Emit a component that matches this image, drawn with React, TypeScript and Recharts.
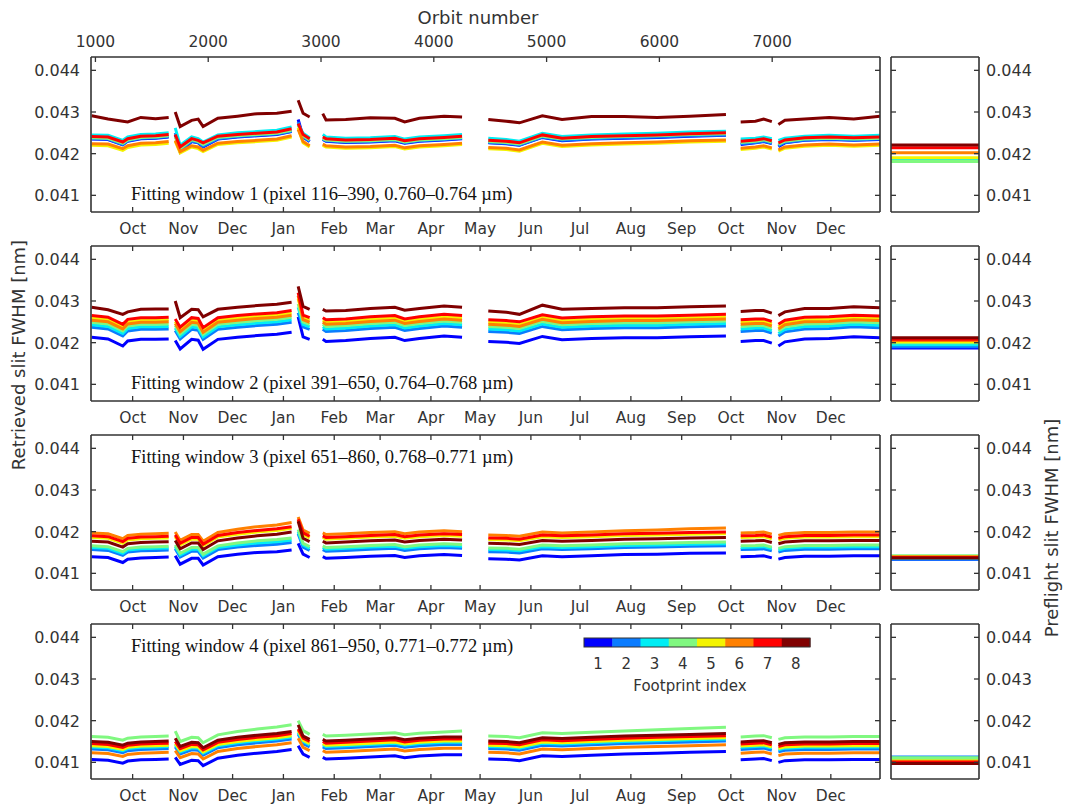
import React from "react";
import { Line, LineChart, XAxis, YAxis } from "recharts";

// jet-style colours for footprints 1..8
const FOOTPRINT_COLORS = ["#0000ff", "#0a7cff", "#00eef4", "#80f880", "#f4f400", "#ff8000", "#ff0000", "#800000"];

// days since 2014-10-01, one list per continuous stretch of data
const SEGMENT_DAYS = [
  [-25, -15, -6, -3, 5, 14, 22],
  [26, 29, 36, 40, 43, 52, 64, 76, 88, 97],
  [101, 104, 108],
  [116, 118, 130, 145, 160, 166, 175, 190, 201],
  [217, 228, 236, 250, 262, 280, 300, 320, 340, 362],
  [371, 380, 385, 390],
  [394, 398, 410, 425, 440, 456],
];

const MONTH_DAYS = [0, 31, 61, 92, 123, 151, 182, 212, 243, 273, 304, 335, 365, 396, 426];
const MONTH_LABELS = ["Oct", "Nov", "Dec", "Jan", "Feb", "Mar", "Apr", "May", "Jun", "Jul", "Aug", "Sep", "Oct", "Nov", "Dec"];
const ORBITS = [1000, 2000, 3000, 4000, 5000, 6000, 7000];
const Y_TICKS = [0.041, 0.042, 0.043, 0.044];
const FOOTPRINTS = ["1", "2", "3", "4", "5", "6", "7", "8"];

// orbit 1000 falls on day -22.7, ~14.5 orbits per day
const ORBIT_1000_DAY = -22.7;
const DAYS_PER_ORBIT = 0.06882;

const DAY_DOMAIN: [number, number] = [-25.4, 456];
const FWHM_DOMAIN: [number, number] = [0.0406, 0.04432];

// ---- window 1 ----
const W1_FP1 = [
  [0.04235, 0.04234, 0.04221, 0.0423, 0.04236, 0.04237, 0.0424],
  [0.04245, 0.04204, 0.04229, 0.04226, 0.04216, 0.04235, 0.0424, 0.04243, 0.04246, 0.04253],
  [0.04282, 0.0424, 0.04229],
  [0.04234, 0.0423, 0.04227, 0.04228, 0.04231, 0.04225, 0.0423, 0.04233, 0.04236],
  [0.04226, 0.04224, 0.0422, 0.04239, 0.04231, 0.04235, 0.04237, 0.04239, 0.04242, 0.04244],
  [0.04222, 0.04226, 0.04229, 0.04224],
  [0.04217, 0.04226, 0.04232, 0.04234, 0.04232, 0.04234],
];
const W1_FP2 = [
  [0.04236, 0.04235, 0.04222, 0.04231, 0.04237, 0.04238, 0.04241],
  [0.0425, 0.04208, 0.0423, 0.04227, 0.04218, 0.04236, 0.04241, 0.04244, 0.04247, 0.04254],
  [0.04276, 0.04241, 0.0423],
  [0.04235, 0.04231, 0.04228, 0.04229, 0.04232, 0.04226, 0.04231, 0.04234, 0.04237],
  [0.04227, 0.04225, 0.04221, 0.0424, 0.04232, 0.04236, 0.04238, 0.0424, 0.04243, 0.04245],
  [0.04224, 0.04227, 0.0423, 0.04225],
  [0.04219, 0.04227, 0.04233, 0.04235, 0.04233, 0.04235],
];
const W1_FP3 = [
  [0.04245, 0.04244, 0.04232, 0.0424, 0.04246, 0.04247, 0.0425],
  [0.04262, 0.0422, 0.0424, 0.04236, 0.04228, 0.04245, 0.0425, 0.04253, 0.04256, 0.04264],
  [0.0427, 0.04249, 0.04238],
  [0.04246, 0.0424, 0.04237, 0.04238, 0.04241, 0.04235, 0.0424, 0.04243, 0.04246],
  [0.04237, 0.04234, 0.0423, 0.04249, 0.04241, 0.04245, 0.04247, 0.04249, 0.04252, 0.04254],
  [0.04235, 0.04237, 0.0424, 0.04236],
  [0.04232, 0.04237, 0.04242, 0.04244, 0.04242, 0.04244],
];
const W1_FP4 = [
  [0.04238, 0.04237, 0.04225, 0.04233, 0.04239, 0.0424, 0.04243],
  [0.0424, 0.04212, 0.04233, 0.04229, 0.04222, 0.04239, 0.04243, 0.04246, 0.04249, 0.04256],
  [0.04268, 0.04243, 0.04233],
  [0.04236, 0.04233, 0.0423, 0.04231, 0.04234, 0.04228, 0.04233, 0.04236, 0.04239],
  [0.04229, 0.04227, 0.04223, 0.04242, 0.04235, 0.04239, 0.04241, 0.04243, 0.04246, 0.04248],
  [0.04227, 0.0423, 0.04233, 0.04228],
  [0.04222, 0.0423, 0.04235, 0.04237, 0.04235, 0.04237],
];
const W1_FP5 = [
  [0.0422, 0.04219, 0.04208, 0.04215, 0.04221, 0.04222, 0.04225],
  [0.0423, 0.04202, 0.04216, 0.04212, 0.04205, 0.04222, 0.04226, 0.04229, 0.04232, 0.0424],
  [0.04262, 0.04226, 0.04216],
  [0.0422, 0.04216, 0.04213, 0.04214, 0.04217, 0.04211, 0.04216, 0.04219, 0.04222],
  [0.04212, 0.0421, 0.04206, 0.04225, 0.04217, 0.04221, 0.04223, 0.04225, 0.04228, 0.0423],
  [0.0421, 0.04213, 0.04216, 0.04211],
  [0.04206, 0.04213, 0.04218, 0.0422, 0.04218, 0.0422],
];
const W1_FP6 = [
  [0.04224, 0.04223, 0.04212, 0.04219, 0.04225, 0.04226, 0.04229],
  [0.04232, 0.04205, 0.04219, 0.04216, 0.04208, 0.04225, 0.04229, 0.04232, 0.04235, 0.04243],
  [0.04258, 0.04229, 0.04219],
  [0.04223, 0.04219, 0.04216, 0.04217, 0.0422, 0.04214, 0.04219, 0.04222, 0.04225],
  [0.04215, 0.04213, 0.04209, 0.04228, 0.0422, 0.04224, 0.04226, 0.04228, 0.04231, 0.04233],
  [0.04213, 0.04216, 0.04219, 0.04214],
  [0.04209, 0.04216, 0.04221, 0.04223, 0.04221, 0.04223],
];
const W1_FP7 = [
  [0.04241, 0.0424, 0.04228, 0.04236, 0.04242, 0.04243, 0.04246],
  [0.04246, 0.04216, 0.04236, 0.04232, 0.04226, 0.04242, 0.04246, 0.04249, 0.04252, 0.0426],
  [0.04272, 0.04246, 0.04236],
  [0.0424, 0.04236, 0.04233, 0.04234, 0.04237, 0.04231, 0.04236, 0.04239, 0.04242],
  [0.04232, 0.0423, 0.04226, 0.04245, 0.04237, 0.04241, 0.04243, 0.04245, 0.04248, 0.0425],
  [0.0423, 0.04233, 0.04236, 0.04231],
  [0.04226, 0.04233, 0.04238, 0.0424, 0.04238, 0.0424],
];
const W1_FP8 = [
  [0.04291, 0.04283, 0.04278, 0.04276, 0.04287, 0.04284, 0.04287],
  [0.043, 0.04265, 0.0428, 0.04283, 0.04265, 0.04285, 0.0429, 0.04296, 0.04297, 0.04302],
  [0.04328, 0.04297, 0.04288],
  [0.04296, 0.04281, 0.04282, 0.04286, 0.04285, 0.04276, 0.04285, 0.0429, 0.04288],
  [0.04282, 0.04278, 0.04274, 0.04291, 0.04282, 0.04289, 0.04289, 0.04287, 0.0429, 0.04294],
  [0.04276, 0.04278, 0.04283, 0.04277],
  [0.0427, 0.0428, 0.04283, 0.04287, 0.04283, 0.0429],
];

// ---- window 2 ----
const W2_FP1 = [
  [0.04213, 0.04209, 0.04192, 0.04204, 0.04208, 0.04208, 0.04209],
  [0.04205, 0.04185, 0.04208, 0.04206, 0.04184, 0.04208, 0.04213, 0.04217, 0.0422, 0.04225],
  [0.04262, 0.04214, 0.04208],
  [0.04208, 0.04203, 0.04205, 0.0421, 0.04213, 0.04205, 0.0421, 0.04216, 0.04213],
  [0.04203, 0.04201, 0.04198, 0.04215, 0.04207, 0.0421, 0.04212, 0.04212, 0.04214, 0.04216],
  [0.04203, 0.04205, 0.04205, 0.04199],
  [0.04192, 0.04202, 0.04209, 0.0421, 0.04214, 0.04212],
];
const W2_FP2 = [
  [0.04237, 0.04233, 0.04216, 0.04228, 0.04232, 0.04232, 0.04233],
  [0.04229, 0.04209, 0.04232, 0.0423, 0.04208, 0.04232, 0.04237, 0.04241, 0.04244, 0.04249],
  [0.04272, 0.04238, 0.04232],
  [0.04232, 0.04227, 0.04229, 0.04234, 0.04237, 0.04229, 0.04234, 0.0424, 0.04237],
  [0.04227, 0.04225, 0.04222, 0.04239, 0.04231, 0.04234, 0.04236, 0.04236, 0.04238, 0.0424],
  [0.04227, 0.04229, 0.04229, 0.04223],
  [0.04216, 0.04226, 0.04233, 0.04234, 0.04238, 0.04236],
];
const W2_FP3 = [
  [0.04243, 0.04239, 0.04222, 0.04234, 0.04238, 0.04238, 0.04239],
  [0.04235, 0.04215, 0.04238, 0.04236, 0.04214, 0.04238, 0.04243, 0.04247, 0.0425, 0.04255],
  [0.04285, 0.04244, 0.04238],
  [0.04238, 0.04233, 0.04235, 0.0424, 0.04243, 0.04235, 0.0424, 0.04246, 0.04243],
  [0.04233, 0.04231, 0.04228, 0.04245, 0.04237, 0.0424, 0.04242, 0.04242, 0.04244, 0.04246],
  [0.04233, 0.04235, 0.04235, 0.04229],
  [0.04222, 0.04232, 0.04239, 0.0424, 0.04244, 0.04242],
];
const W2_FP4 = [
  [0.04249, 0.04245, 0.04228, 0.0424, 0.04244, 0.04244, 0.04245],
  [0.04241, 0.04221, 0.04244, 0.04242, 0.0422, 0.04244, 0.04249, 0.04253, 0.04256, 0.04261],
  [0.04293, 0.0425, 0.04244],
  [0.04244, 0.04239, 0.04241, 0.04246, 0.04249, 0.04241, 0.04246, 0.04252, 0.04249],
  [0.04239, 0.04237, 0.04234, 0.04251, 0.04243, 0.04246, 0.04248, 0.04248, 0.0425, 0.04252],
  [0.04239, 0.04241, 0.04241, 0.04235],
  [0.04228, 0.04238, 0.04245, 0.04246, 0.0425, 0.04248],
];
const W2_FP5 = [
  [0.04259, 0.04255, 0.04238, 0.0425, 0.04254, 0.04254, 0.04255],
  [0.04251, 0.04231, 0.04254, 0.04252, 0.0423, 0.04254, 0.04259, 0.04263, 0.04266, 0.04271],
  [0.04305, 0.0426, 0.04254],
  [0.04254, 0.04249, 0.04251, 0.04256, 0.04259, 0.04251, 0.04256, 0.04262, 0.04259],
  [0.04249, 0.04247, 0.04244, 0.04261, 0.04253, 0.04256, 0.04258, 0.04258, 0.0426, 0.04262],
  [0.04249, 0.04251, 0.04251, 0.04245],
  [0.04238, 0.04248, 0.04255, 0.04256, 0.0426, 0.04258],
];
const W2_FP6 = [
  [0.04254, 0.0425, 0.04233, 0.04245, 0.04249, 0.04249, 0.0425],
  [0.04246, 0.04226, 0.04249, 0.04247, 0.04225, 0.04249, 0.04254, 0.04258, 0.04261, 0.04266],
  [0.04313, 0.04255, 0.04249],
  [0.04249, 0.04244, 0.04246, 0.04251, 0.04254, 0.04246, 0.04251, 0.04257, 0.04254],
  [0.04244, 0.04242, 0.04239, 0.04256, 0.04248, 0.04251, 0.04253, 0.04253, 0.04255, 0.04257],
  [0.04244, 0.04246, 0.04246, 0.0424],
  [0.04233, 0.04243, 0.0425, 0.04251, 0.04255, 0.04253],
];
const W2_FP7 = [
  [0.04265, 0.04261, 0.04244, 0.04256, 0.0426, 0.0426, 0.04261],
  [0.04257, 0.04237, 0.0426, 0.04258, 0.04236, 0.0426, 0.04265, 0.04269, 0.04272, 0.04277],
  [0.0432, 0.04266, 0.0426],
  [0.0426, 0.04255, 0.04257, 0.04262, 0.04265, 0.04257, 0.04262, 0.04268, 0.04265],
  [0.04255, 0.04253, 0.0425, 0.04267, 0.04259, 0.04262, 0.04264, 0.04264, 0.04266, 0.04268],
  [0.04255, 0.04257, 0.04257, 0.04251],
  [0.04244, 0.04254, 0.04261, 0.04262, 0.04266, 0.04264],
];
const W2_FP8 = [
  [0.04285, 0.04279, 0.04268, 0.04274, 0.0428, 0.04281, 0.04281],
  [0.043, 0.0426, 0.0428, 0.04279, 0.04262, 0.0428, 0.04285, 0.04289, 0.04292, 0.04297],
  [0.04335, 0.04287, 0.0428],
  [0.0428, 0.04276, 0.04277, 0.04282, 0.04285, 0.04278, 0.04282, 0.04288, 0.04285],
  [0.04276, 0.04273, 0.04268, 0.0429, 0.0428, 0.04282, 0.04284, 0.04284, 0.04286, 0.04288],
  [0.04275, 0.04277, 0.04277, 0.04271],
  [0.04265, 0.04274, 0.04282, 0.04282, 0.04286, 0.04284],
];

// ---- window 3 ----
const W3_FP1 = [
  [0.0414, 0.04138, 0.04126, 0.04134, 0.04137, 0.04138, 0.04139],
  [0.04142, 0.04122, 0.04136, 0.04136, 0.0412, 0.0414, 0.04146, 0.0415, 0.04152, 0.04156],
  [0.04172, 0.04146, 0.04138],
  [0.0414, 0.04136, 0.04138, 0.04141, 0.04143, 0.04138, 0.04142, 0.04145, 0.04143],
  [0.04135, 0.04134, 0.04132, 0.04142, 0.0414, 0.04142, 0.04145, 0.04146, 0.04148, 0.04149],
  [0.0414, 0.04141, 0.04142, 0.04137],
  [0.04134, 0.04138, 0.04141, 0.04141, 0.04142, 0.04142],
];
const W3_FP2 = [
  [0.04157, 0.04155, 0.04143, 0.04151, 0.04154, 0.04155, 0.04156],
  [0.04159, 0.04139, 0.04153, 0.04153, 0.04137, 0.04157, 0.04163, 0.04167, 0.0417, 0.04174],
  [0.04195, 0.04163, 0.04155],
  [0.04157, 0.04153, 0.04155, 0.04158, 0.0416, 0.04155, 0.04159, 0.04162, 0.0416],
  [0.04152, 0.04151, 0.04149, 0.04159, 0.04157, 0.04159, 0.04162, 0.04163, 0.04165, 0.04166],
  [0.04157, 0.04158, 0.04159, 0.04154],
  [0.04151, 0.04155, 0.04158, 0.04158, 0.04159, 0.04159],
];
const W3_FP3 = [
  [0.04162, 0.0416, 0.04148, 0.04156, 0.04159, 0.0416, 0.04161],
  [0.04164, 0.04144, 0.04158, 0.04158, 0.04142, 0.04162, 0.04168, 0.04173, 0.04176, 0.0418],
  [0.042, 0.04168, 0.0416],
  [0.04162, 0.04158, 0.0416, 0.04163, 0.04165, 0.0416, 0.04164, 0.04167, 0.04165],
  [0.04157, 0.04156, 0.04154, 0.04164, 0.04162, 0.04164, 0.04167, 0.04168, 0.0417, 0.04171],
  [0.04162, 0.04163, 0.04164, 0.04159],
  [0.04156, 0.0416, 0.04163, 0.04163, 0.04164, 0.04164],
];
const W3_FP4 = [
  [0.04166, 0.04164, 0.04152, 0.0416, 0.04163, 0.04164, 0.04165],
  [0.04168, 0.04148, 0.04162, 0.04162, 0.04146, 0.04166, 0.04173, 0.04178, 0.04181, 0.04185],
  [0.04205, 0.04172, 0.04164],
  [0.04166, 0.04162, 0.04164, 0.04167, 0.04169, 0.04164, 0.04168, 0.04171, 0.04169],
  [0.04161, 0.0416, 0.04158, 0.04168, 0.04166, 0.04168, 0.04171, 0.04172, 0.04174, 0.04175],
  [0.04166, 0.04167, 0.04168, 0.04163],
  [0.0416, 0.04164, 0.04167, 0.04167, 0.04168, 0.04168],
];
const W3_FP5 = [
  [0.04186, 0.04184, 0.04172, 0.0418, 0.04183, 0.04184, 0.04185],
  [0.04188, 0.04168, 0.04182, 0.04182, 0.04166, 0.04187, 0.04194, 0.04199, 0.04203, 0.04208],
  [0.04228, 0.04193, 0.04185],
  [0.04186, 0.04182, 0.04184, 0.04187, 0.04189, 0.04184, 0.04188, 0.04191, 0.04189],
  [0.04181, 0.0418, 0.04178, 0.04188, 0.04186, 0.04188, 0.04191, 0.04192, 0.04194, 0.04195],
  [0.04186, 0.04187, 0.04188, 0.04183],
  [0.0418, 0.04184, 0.04187, 0.04187, 0.04188, 0.04188],
];
const W3_FP6 = [
  [0.04197, 0.04195, 0.04183, 0.04191, 0.04194, 0.04195, 0.04196],
  [0.04199, 0.04179, 0.04193, 0.04193, 0.04177, 0.04198, 0.04206, 0.04212, 0.04216, 0.04222],
  [0.04235, 0.04204, 0.04196],
  [0.04197, 0.04193, 0.04195, 0.04198, 0.042, 0.04195, 0.04199, 0.04202, 0.042],
  [0.04192, 0.04191, 0.04189, 0.04199, 0.04197, 0.04199, 0.04202, 0.04204, 0.04207, 0.04209],
  [0.04197, 0.04198, 0.04199, 0.04194],
  [0.04191, 0.04195, 0.04198, 0.04198, 0.04199, 0.04199],
];
const W3_FP7 = [
  [0.0419, 0.04188, 0.04176, 0.04184, 0.04187, 0.04188, 0.04189],
  [0.04192, 0.04172, 0.04186, 0.04186, 0.0417, 0.04191, 0.04198, 0.04203, 0.04207, 0.04212],
  [0.0423, 0.04197, 0.04189],
  [0.0419, 0.04186, 0.04188, 0.04191, 0.04193, 0.04188, 0.04192, 0.04195, 0.04193],
  [0.04185, 0.04184, 0.04182, 0.04192, 0.0419, 0.04192, 0.04195, 0.04196, 0.04198, 0.04199],
  [0.0419, 0.04191, 0.04192, 0.04187],
  [0.04184, 0.04188, 0.04191, 0.04191, 0.04192, 0.04192],
];
const W3_FP8 = [
  [0.04177, 0.04175, 0.04163, 0.04171, 0.04174, 0.04175, 0.04176],
  [0.04179, 0.04159, 0.04173, 0.04173, 0.04157, 0.04178, 0.04185, 0.0419, 0.04194, 0.04199],
  [0.04225, 0.04184, 0.04176],
  [0.04177, 0.04173, 0.04175, 0.04178, 0.0418, 0.04175, 0.04179, 0.04182, 0.0418],
  [0.04172, 0.04171, 0.04169, 0.04179, 0.04177, 0.04179, 0.04182, 0.04183, 0.04185, 0.04186],
  [0.04177, 0.04178, 0.04179, 0.04174],
  [0.04171, 0.04175, 0.04178, 0.04178, 0.04179, 0.04179],
];

// ---- window 4 ----
const W4_FP1 = [
  [0.04107, 0.04105, 0.04098, 0.04103, 0.04106, 0.04107, 0.04108],
  [0.04112, 0.04095, 0.04105, 0.04104, 0.04092, 0.0411, 0.04117, 0.04122, 0.04126, 0.04131],
  [0.0414, 0.0412, 0.04112],
  [0.04112, 0.04108, 0.0411, 0.04113, 0.04116, 0.04111, 0.04115, 0.04118, 0.04118],
  [0.04108, 0.04107, 0.04104, 0.04116, 0.04114, 0.04117, 0.0412, 0.04122, 0.04124, 0.04126],
  [0.04106, 0.04108, 0.04109, 0.04104],
  [0.041, 0.04104, 0.04106, 0.04106, 0.04107, 0.04107],
];
const W4_FP2 = [
  [0.04132, 0.0413, 0.04123, 0.04128, 0.04131, 0.04132, 0.04133],
  [0.04137, 0.0412, 0.0413, 0.04129, 0.04117, 0.04135, 0.04142, 0.04147, 0.04151, 0.04156],
  [0.04168, 0.04145, 0.04137],
  [0.04137, 0.04133, 0.04135, 0.04138, 0.04141, 0.04136, 0.0414, 0.04143, 0.04143],
  [0.04133, 0.04132, 0.04129, 0.04141, 0.04139, 0.04142, 0.04145, 0.04147, 0.04149, 0.04151],
  [0.04131, 0.04133, 0.04134, 0.04129],
  [0.04125, 0.04129, 0.04131, 0.04131, 0.04132, 0.04132],
];
const W4_FP3 = [
  [0.04137, 0.04135, 0.04128, 0.04133, 0.04136, 0.04137, 0.04138],
  [0.04142, 0.04125, 0.04135, 0.04134, 0.04122, 0.0414, 0.04147, 0.04152, 0.04156, 0.04161],
  [0.04172, 0.0415, 0.04142],
  [0.04142, 0.04138, 0.0414, 0.04143, 0.04146, 0.04141, 0.04145, 0.04148, 0.04148],
  [0.04138, 0.04137, 0.04134, 0.04146, 0.04144, 0.04147, 0.0415, 0.04152, 0.04154, 0.04156],
  [0.04136, 0.04138, 0.04139, 0.04134],
  [0.0413, 0.04134, 0.04136, 0.04136, 0.04137, 0.04137],
];
const W4_FP4 = [
  [0.04162, 0.0416, 0.04153, 0.04158, 0.04161, 0.04162, 0.04163],
  [0.04175, 0.0415, 0.0416, 0.04159, 0.04147, 0.04166, 0.04174, 0.0418, 0.04185, 0.0419],
  [0.042, 0.04176, 0.04167],
  [0.04167, 0.04163, 0.04165, 0.04168, 0.04171, 0.04166, 0.0417, 0.04173, 0.04175],
  [0.04163, 0.04162, 0.04159, 0.04171, 0.04169, 0.04172, 0.04175, 0.04178, 0.04181, 0.04184],
  [0.04161, 0.04163, 0.04164, 0.04159],
  [0.04155, 0.04159, 0.04161, 0.04161, 0.04162, 0.04162],
];
const W4_FP5 = [
  [0.0414, 0.04138, 0.04131, 0.04136, 0.04139, 0.0414, 0.04141],
  [0.04145, 0.04128, 0.04138, 0.04137, 0.04125, 0.04143, 0.0415, 0.04155, 0.04159, 0.04164],
  [0.04176, 0.04153, 0.04145],
  [0.04145, 0.04141, 0.04143, 0.04146, 0.04149, 0.04144, 0.04148, 0.04151, 0.04151],
  [0.04141, 0.0414, 0.04137, 0.04149, 0.04147, 0.0415, 0.04153, 0.04155, 0.04157, 0.04159],
  [0.04139, 0.04141, 0.04142, 0.04137],
  [0.04133, 0.04137, 0.04139, 0.04139, 0.0414, 0.0414],
];
const W4_FP6 = [
  [0.04123, 0.04121, 0.04114, 0.04119, 0.04122, 0.04123, 0.04124],
  [0.04128, 0.04111, 0.04121, 0.0412, 0.04108, 0.04126, 0.04133, 0.04138, 0.04142, 0.04147],
  [0.04158, 0.04136, 0.04128],
  [0.04128, 0.04124, 0.04126, 0.04129, 0.04132, 0.04127, 0.04131, 0.04134, 0.04134],
  [0.04124, 0.04123, 0.0412, 0.04132, 0.0413, 0.04133, 0.04136, 0.04138, 0.0414, 0.04142],
  [0.04122, 0.04124, 0.04125, 0.0412],
  [0.04116, 0.0412, 0.04122, 0.04122, 0.04123, 0.04123],
];
const W4_FP7 = [
  [0.04145, 0.04143, 0.04136, 0.04141, 0.04144, 0.04145, 0.04146],
  [0.0415, 0.04133, 0.04143, 0.04142, 0.0413, 0.04148, 0.04155, 0.0416, 0.04164, 0.04169],
  [0.0418, 0.04158, 0.0415],
  [0.0415, 0.04146, 0.04148, 0.04151, 0.04154, 0.04149, 0.04153, 0.04156, 0.04156],
  [0.04146, 0.04145, 0.04142, 0.04154, 0.04152, 0.04155, 0.04158, 0.0416, 0.04162, 0.04164],
  [0.04144, 0.04146, 0.04147, 0.04142],
  [0.04138, 0.04142, 0.04144, 0.04144, 0.04145, 0.04145],
];
const W4_FP8 = [
  [0.0415, 0.04148, 0.04141, 0.04146, 0.04149, 0.0415, 0.04151],
  [0.04158, 0.04138, 0.04148, 0.04147, 0.04135, 0.04153, 0.0416, 0.04165, 0.04169, 0.04174],
  [0.0419, 0.04163, 0.04155],
  [0.04155, 0.04151, 0.04153, 0.04156, 0.04159, 0.04154, 0.04158, 0.04161, 0.04161],
  [0.04151, 0.0415, 0.04147, 0.04159, 0.04157, 0.0416, 0.04163, 0.04165, 0.04167, 0.04169],
  [0.04149, 0.04151, 0.04152, 0.04147],
  [0.04143, 0.04147, 0.04149, 0.04149, 0.0415, 0.0415],
];

// preflight slit FWHM per footprint (1..8)
const PREFLIGHT_W1 = [0.04183, 0.04184, 0.04186, 0.04181, 0.0419, 0.04202, 0.04214, 0.04221];
const PREFLIGHT_W2 = [0.04187, 0.0419, 0.04195, 0.042, 0.04202, 0.04205, 0.04208, 0.04212];
const PREFLIGHT_W3 = [0.04134, 0.04134, 0.04136, 0.04142, 0.04139, 0.0414, 0.04138, 0.04137];
const PREFLIGHT_W4 = [0.04108, 0.04113, 0.0411, 0.04111, 0.04104, 0.04102, 0.041, 0.04097];

const PANELS = [
  {
    top: 57,
    series: [W1_FP1, W1_FP2, W1_FP3, W1_FP4, W1_FP5, W1_FP6, W1_FP7, W1_FP8],
    preflight: PREFLIGHT_W1,
    title: "Fitting window 1 (pixel 116\u2013390, 0.760\u20130.764 \u00b5m)",
    titleY: 200,
  },
  {
    top: 246,
    series: [W2_FP1, W2_FP2, W2_FP3, W2_FP4, W2_FP5, W2_FP6, W2_FP7, W2_FP8],
    preflight: PREFLIGHT_W2,
    title: "Fitting window 2 (pixel 391\u2013650, 0.764\u20130.768 \u00b5m)",
    titleY: 389,
  },
  {
    top: 435,
    series: [W3_FP1, W3_FP2, W3_FP3, W3_FP4, W3_FP5, W3_FP6, W3_FP7, W3_FP8],
    preflight: PREFLIGHT_W3,
    title: "Fitting window 3 (pixel 651\u2013860, 0.768\u20130.771 \u00b5m)",
    titleY: 463,
  },
  {
    top: 624,
    series: [W4_FP1, W4_FP2, W4_FP3, W4_FP4, W4_FP5, W4_FP6, W4_FP7, W4_FP8],
    preflight: PREFLIGHT_W4,
    title: "Fitting window 4 (pixel 861\u2013950, 0.771\u20130.772 \u00b5m)",
    titleY: 652,
  },
];

const PLOT_LEFT = 91;
const PLOT_W = 789;
const PLOT_H = 155;
const SIDE_LEFT = 891;
const SIDE_W = 88;
const TICK_LEN = 5;
const AXIS_COLOR = "#333";
const SANS = "DejaVu Sans";
const SERIF = "Liberation Serif";

type Row = Record<string, number | null>;

// flatten the segments into one table, with an empty row in each gap
function buildRows(series: number[][][]): Row[] {
  const rows: Row[] = [];
  SEGMENT_DAYS.forEach((days, s) => {
    if (s > 0) {
      const prev = SEGMENT_DAYS[s - 1];
      const gap: Row = { day: (prev[prev.length - 1] + days[0]) / 2 };
      series.forEach((_, k) => (gap[`fp${k + 1}`] = null));
      rows.push(gap);
    }
    days.forEach((day, i) => {
      const row: Row = { day };
      series.forEach((fp, k) => (row[`fp${k + 1}`] = fp[s][i]));
      rows.push(row);
    });
  });
  return rows;
}

const orbitDay = (orbit: number) => ORBIT_1000_DAY + (orbit - 1000) * DAYS_PER_ORBIT;

const BottomMonthTick = (props: any) => {
  const { x, y, index } = props;
  return (
    <g>
      <line x1={x} y1={y} x2={x} y2={y - TICK_LEN} stroke={AXIS_COLOR} strokeWidth={1.3} />
      <text x={x} y={y + 22} textAnchor="middle" fontFamily={SANS} fontSize={15.5} fill={AXIS_COLOR}>
        {MONTH_LABELS[index]}
      </text>
    </g>
  );
};

const TopMonthTick = (props: any) => {
  const { x, y } = props;
  return <line x1={x} y1={y} x2={x} y2={y + TICK_LEN} stroke={AXIS_COLOR} strokeWidth={1.3} />;
};

const OrbitTick = (props: any) => {
  const { x, y, index } = props;
  return (
    <g>
      <line x1={x} y1={y} x2={x} y2={y + TICK_LEN} stroke={AXIS_COLOR} strokeWidth={1.3} />
      <text x={x} y={y - 10} textAnchor="middle" fontFamily={SANS} fontSize={15.5} fill={AXIS_COLOR}>
        {ORBITS[index]}
      </text>
    </g>
  );
};

const LeftValueTick = (props: any) => {
  const { x, y, payload } = props;
  return (
    <g>
      <line x1={x} y1={y} x2={x + TICK_LEN} y2={y} stroke={AXIS_COLOR} strokeWidth={1.3} />
      <text x={x - 11} y={y + 6} textAnchor="end" fontFamily={SANS} fontSize={16} fill={AXIS_COLOR}>
        {payload.value.toFixed(3)}
      </text>
    </g>
  );
};

const InnerRightTick = (props: any) => {
  const { x, y } = props;
  return <line x1={x} y1={y} x2={x - TICK_LEN} y2={y} stroke={AXIS_COLOR} strokeWidth={1.3} />;
};

const InnerLeftTick = (props: any) => {
  const { x, y } = props;
  return <line x1={x} y1={y} x2={x + TICK_LEN} y2={y} stroke={AXIS_COLOR} strokeWidth={1.3} />;
};

const RightValueTick = (props: any) => {
  const { x, y, payload } = props;
  return (
    <g>
      <line x1={x} y1={y} x2={x - TICK_LEN} y2={y} stroke={AXIS_COLOR} strokeWidth={1.3} />
      <text x={x + 7} y={y + 6} textAnchor="start" fontFamily={SANS} fontSize={16} fill={AXIS_COLOR}>
        {payload.value.toFixed(3)}
      </text>
    </g>
  );
};

const axisLine = { stroke: AXIS_COLOR, strokeWidth: 1.6 };

function TimePanel({ panel, first }: { panel: (typeof PANELS)[number]; first: boolean }) {
  const rows = buildRows(panel.series);
  const topH = first ? 57 : 20;
  const bottomH = 30;
  return (
    <div style={{ position: "absolute", left: 0, top: panel.top - topH }}>
      <LineChart
        width={PLOT_LEFT + PLOT_W + 1}
        height={topH + PLOT_H + bottomH}
        data={rows}
        margin={{ top: 0, right: 0, bottom: 0, left: 0 }}
      >
        <XAxis
          dataKey="day"
          type="number"
          domain={DAY_DOMAIN}
          allowDataOverflow
          ticks={MONTH_DAYS}
          interval={0}
          height={bottomH}
          tickSize={0}
          tickMargin={0}
          tickLine={false}
          axisLine={axisLine}
          tick={<BottomMonthTick />}
        />
        <XAxis
          xAxisId="top"
          orientation="top"
          dataKey="day"
          type="number"
          domain={DAY_DOMAIN}
          allowDataOverflow
          ticks={first ? ORBITS.map(orbitDay) : MONTH_DAYS}
          interval={0}
          height={topH}
          tickSize={0}
          tickMargin={0}
          tickLine={false}
          axisLine={axisLine}
          tick={first ? <OrbitTick /> : <TopMonthTick />}
        />
        <YAxis
          type="number"
          domain={FWHM_DOMAIN}
          allowDataOverflow
          ticks={Y_TICKS}
          interval={0}
          width={PLOT_LEFT}
          tickSize={0}
          tickMargin={0}
          tickLine={false}
          axisLine={axisLine}
          tick={<LeftValueTick />}
        />
        <YAxis
          yAxisId="right"
          orientation="right"
          type="number"
          domain={FWHM_DOMAIN}
          allowDataOverflow
          ticks={Y_TICKS}
          interval={0}
          width={1}
          tickSize={0}
          tickMargin={0}
          tickLine={false}
          axisLine={axisLine}
          tick={<InnerRightTick />}
        />
        {FOOTPRINT_COLORS.map((color, k) => (
          <Line
            key={k}
            dataKey={`fp${k + 1}`}
            type="linear"
            stroke={color}
            strokeWidth={3}
            dot={false}
            connectNulls={false}
            isAnimationActive={false}
          />
        ))}
      </LineChart>
    </div>
  );
}

function PreflightPanel({ panel }: { panel: (typeof PANELS)[number] }) {
  // two points per footprint make a flat line across the small box
  const rows = [0, 1].map((x) => {
    const row: Row = { x };
    panel.preflight.forEach((v, k) => (row[`fp${k + 1}`] = v));
    return row;
  });
  return (
    <div style={{ position: "absolute", left: SIDE_LEFT - 1, top: panel.top - 1 }}>
      <LineChart width={1 + SIDE_W + 80} height={PLOT_H + 2} data={rows} margin={{ top: 0, right: 0, bottom: 0, left: 0 }}>
        <XAxis dataKey="x" type="number" domain={[0, 1]} height={1} tick={false} tickLine={false} axisLine={axisLine} />
        <XAxis
          xAxisId="top"
          orientation="top"
          dataKey="x"
          type="number"
          domain={[0, 1]}
          height={1}
          tick={false}
          tickLine={false}
          axisLine={axisLine}
        />
        <YAxis
          type="number"
          domain={FWHM_DOMAIN}
          allowDataOverflow
          ticks={Y_TICKS}
          interval={0}
          width={1}
          tickSize={0}
          tickMargin={0}
          tickLine={false}
          axisLine={axisLine}
          tick={<InnerLeftTick />}
        />
        <YAxis
          yAxisId="right"
          orientation="right"
          type="number"
          domain={FWHM_DOMAIN}
          allowDataOverflow
          ticks={Y_TICKS}
          interval={0}
          width={80}
          tickSize={0}
          tickMargin={0}
          tickLine={false}
          axisLine={axisLine}
          tick={<RightValueTick />}
        />
        {FOOTPRINT_COLORS.map((color, k) => (
          <Line
            key={k}
            dataKey={`fp${k + 1}`}
            type="linear"
            stroke={color}
            strokeWidth={3}
            dot={false}
            isAnimationActive={false}
          />
        ))}
      </LineChart>
    </div>
  );
}

export default function App() {
  const barLeft = 584;
  const cellW = 28.25;
  return (
    <div style={{ position: "absolute", left: 0, top: 0, width: 1065, height: 807, background: "#fff", overflow: "hidden" }}>
      {PANELS.map((panel, i) => (
        <React.Fragment key={i}>
          <TimePanel panel={panel} first={i === 0} />
          <PreflightPanel panel={panel} />
        </React.Fragment>
      ))}
      <svg width={1065} height={807} style={{ position: "absolute", left: 0, top: 0, pointerEvents: "none" }}>
        <text x={478} y={24} textAnchor="middle" fontFamily={SANS} fontSize={18} fill={AXIS_COLOR}>
          Orbit number
        </text>
        <text
          transform="translate(25,355) rotate(-90)"
          textAnchor="middle"
          fontFamily={SANS}
          fontSize={18}
          fill={AXIS_COLOR}
        >
          Retrieved slit FWHM [nm]
        </text>
        <text
          transform="translate(1058,528) rotate(-90)"
          textAnchor="middle"
          fontFamily={SANS}
          fontSize={18}
          fill={AXIS_COLOR}
        >
          Preflight slit FWHM [nm]
        </text>
        {PANELS.map((panel, i) => (
          <text key={i} x={131} y={panel.titleY} fontFamily={SERIF} fontSize={18.5} fill="#111">
            {panel.title}
          </text>
        ))}
        {FOOTPRINT_COLORS.map((color, k) => (
          <rect key={k} x={barLeft + k * cellW} y={638} width={cellW + 0.5} height={9} fill={color} />
        ))}
        <rect x={barLeft} y={638} width={cellW * 8} height={9} fill="none" stroke={AXIS_COLOR} strokeWidth={1} />
        {FOOTPRINTS.map((label, k) => (
          <text
            key={label}
            x={barLeft + (k + 0.5) * cellW}
            y={669}
            textAnchor="middle"
            fontFamily={SANS}
            fontSize={15}
            fill={AXIS_COLOR}
          >
            {label}
          </text>
        ))}
        <text x={690} y={691} textAnchor="middle" fontFamily={SANS} fontSize={15} fill={AXIS_COLOR}>
          Footprint index
        </text>
      </svg>
    </div>
  );
}
